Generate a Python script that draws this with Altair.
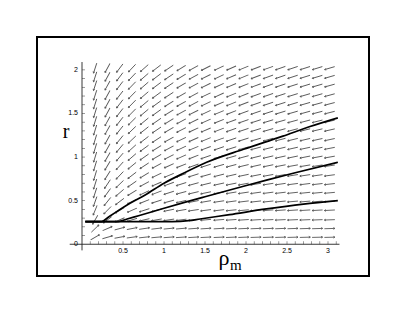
import math
import pandas as pd
import altair as alt

# ---- direction-field grid ----
rho_grid = [0.16, 0.31, 0.46, 0.61, 0.76, 0.91, 1.06, 1.21, 1.36, 1.51,
            1.67, 1.82, 1.97, 2.12, 2.27, 2.42, 2.57, 2.72, 2.87, 3.02]
r_grid = [0.08, 0.18, 0.28, 0.39, 0.49, 0.59, 0.69, 0.79, 0.90, 1.00,
          1.10, 1.20, 1.31, 1.41, 1.51, 1.61, 1.71, 1.82, 1.92, 2.02]
# slope of each row's arrows at rho = 1, and how fast it falls with rho
row_gain = [0.075, 0.10, 0.15, 0.21, 0.27, 0.32, 0.37, 0.42, 0.46, 0.50,
            0.53, 0.56, 0.58, 0.60, 0.62, 0.63, 0.64, 0.65, 0.66, 0.67]
row_power = [1.1, 1.2, 1.3, 1.3, 1.25, 1.2, 1.15, 1.1, 1.05, 1.0,
             0.97, 0.94, 0.91, 0.89, 0.87, 0.85, 0.83, 0.82, 0.81, 0.80]
r_eq = 0.26  # arrows point down-left above this level, up-right below

# ---- solution curves ----
curve_upper_rho = [0.04, 0.24, 0.32, 0.40, 0.585, 0.77, 1.0, 1.25, 1.52, 1.97, 2.45, 2.78, 3.12]
curve_upper_r = [0.26, 0.26, 0.31, 0.36, 0.47, 0.565, 0.70, 0.82, 0.94, 1.09, 1.24, 1.35, 1.45]
curve_mid_rho = [0.04, 0.44, 0.55, 0.70, 0.99, 1.25, 1.50, 1.97, 2.25, 2.60, 3.12]
curve_mid_r = [0.26, 0.26, 0.29, 0.33, 0.41, 0.48, 0.545, 0.665, 0.735, 0.82, 0.94]
curve_low_rho = [0.04, 1.10, 1.30, 1.44, 1.80, 2.25, 2.70, 3.12]
curve_low_r = [0.26, 0.26, 0.27, 0.29, 0.34, 0.405, 0.46, 0.50]

# ---- axes ----
x_axis_range = [-0.15, 3.14]
y_axis_range = [-0.07, 2.09]
x_major = [0.5, 1.0, 1.5, 2.0, 2.5, 3.0]
x_major_labels = ["0.5", "1", "1.5", "2", "2.5", "3"]
y_major = [0.5, 1.0, 1.5, 2.0]
y_major_labels = ["0.5", "1", "1.5", "2"]
x_minor = [round(0.1 * k, 2) for k in range(1, 32)]
y_minor = [round(0.1 * k, 2) for k in range(1, 21)]

# ---- layout ----
W, H = 332, 239
X_DOM = [-0.549, 3.5]
Y_DOM = [-0.364, 2.377]
px_x = W / (X_DOM[1] - X_DOM[0])
px_y = H / (Y_DOM[1] - Y_DOM[0])

xs = alt.Scale(domain=X_DOM, nice=False, zero=False)
ys = alt.Scale(domain=Y_DOM, nice=False, zero=False)

arrows = []
for i, r in enumerate(r_grid):
    for rho in rho_grid:
        s = row_gain[i] / rho ** row_power[i]
        sign = -1.0 if r > r_eq else 1.0
        sx, sy = sign * px_x, -sign * s * px_y
        ang = math.degrees(math.atan2(sy, sx)) % 360
        arrows.append({"rho": rho, "r": r, "angle": ang})
arrow_df = pd.DataFrame(arrows)

curves = []
for name, xr, yr in [("upper", curve_upper_rho, curve_upper_r),
                     ("mid", curve_mid_rho, curve_mid_r),
                     ("low", curve_low_rho, curve_low_r)]:
    for k, (a, b) in enumerate(zip(xr, yr)):
        curves.append({"curve": name, "rho": a, "r": b, "k": k})
curve_df = pd.DataFrame(curves)

arrow_path = "M -1 0 L 1 0 M 1 0 L 0.72 -0.16 M 1 0 L 0.72 0.16"
field = alt.Chart(arrow_df).mark_point(
    shape=arrow_path, filled=False, stroke="#5a5a5a", strokeWidth=0.9,
    size=110, opacity=1
).encode(
    x=alt.X("rho:Q", scale=xs, axis=None),
    y=alt.Y("r:Q", scale=ys, axis=None),
    angle=alt.Angle("angle:Q", scale=None),
)

lines = alt.Chart(curve_df).mark_line(
    color="black", strokeWidth=1.7, interpolate="monotone"
).encode(
    x=alt.X("rho:Q", scale=xs, axis=None),
    y=alt.Y("r:Q", scale=ys, axis=None),
    detail="curve:N",
    order="k:Q",
)

xaxis_df = pd.DataFrame({"x": [x_axis_range[0]], "x2": [x_axis_range[1]], "y": [0.0]})
xaxis = alt.Chart(xaxis_df).mark_rule(color="#222222", strokeWidth=0.9).encode(
    x=alt.X("x:Q", scale=xs, axis=None), x2="x2:Q",
    y=alt.Y("y:Q", scale=ys, axis=None))
yaxis_df = pd.DataFrame({"y": [y_axis_range[0]], "y2": [y_axis_range[1]], "x": [0.0]})
yaxis = alt.Chart(yaxis_df).mark_rule(color="#222222", strokeWidth=0.9).encode(
    y=alt.Y("y:Q", scale=ys, axis=None), y2="y2:Q",
    x=alt.X("x:Q", scale=xs, axis=None))

xminor_df = pd.DataFrame({"x": x_minor, "y": 0.0})
xminor = alt.Chart(xminor_df).mark_tick(
    orient="vertical", size=3, thickness=0.7, color="#333333", yOffset=-1.5
).encode(x=alt.X("x:Q", scale=xs, axis=None), y=alt.Y("y:Q", scale=ys, axis=None))
yminor_df = pd.DataFrame({"y": y_minor, "x": 0.0})
yminor = alt.Chart(yminor_df).mark_tick(
    orient="horizontal", size=3, thickness=0.7, color="#333333", xOffset=1.5
).encode(x=alt.X("x:Q", scale=xs, axis=None), y=alt.Y("y:Q", scale=ys, axis=None))

xlab_df = pd.DataFrame({"x": x_major, "y": 0.0, "t": x_major_labels})
xlab = alt.Chart(xlab_df).mark_text(
    font="Liberation Sans", fontSize=7, color="black", dy=7, baseline="middle"
).encode(x=alt.X("x:Q", scale=xs, axis=None), y=alt.Y("y:Q", scale=ys, axis=None), text="t:N")
ylab_df = pd.DataFrame({"x": 0.0, "y": y_major + [0.0], "t": y_major_labels + ["0"]})
ylab = alt.Chart(ylab_df).mark_text(
    font="Liberation Sans", fontSize=7, color="black", dx=-4, align="right", baseline="middle"
).encode(x=alt.X("x:Q", scale=xs, axis=None), y=alt.Y("y:Q", scale=ys, axis=None), text="t:N")

title_r = alt.Chart(pd.DataFrame({"t": ["r"]})).mark_text(
    font="Liberation Serif", fontSize=20, color="black", align="center", baseline="middle"
).encode(x=alt.value(29), y=alt.value(95), text="t:N")
title_rho = alt.Chart(pd.DataFrame({"t": ["ρ"]})).mark_text(
    font="Liberation Serif", fontSize=22, color="black", align="center", baseline="alphabetic"
).encode(x=alt.value(187), y=alt.value(228), text="t:N")
title_m = alt.Chart(pd.DataFrame({"t": ["m"]})).mark_text(
    font="Liberation Serif", fontSize=15, color="black", align="left", baseline="alphabetic"
).encode(x=alt.value(193), y=alt.value(233), text="t:N")

chart = alt.layer(
    field, xminor, yminor, xaxis, yaxis, lines, xlab, ylab, title_r, title_rho, title_m
).properties(
    width=W, height=H,
    autosize=alt.AutoSizeParams(type="none"),
    padding={"left": 29, "top": 29, "right": 10, "bottom": 10},
).configure_view(stroke="black", strokeWidth=2)

chart.save("out.html", embed_options={"renderer": "svg", "actions": False})
